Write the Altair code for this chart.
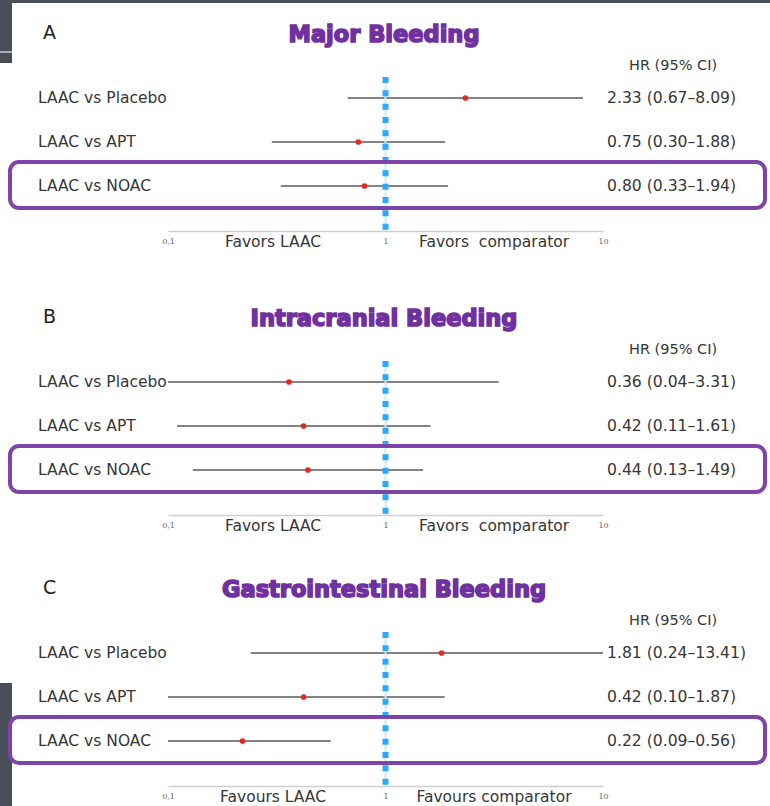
import altair as alt
import pandas as pd

# ---------------- data ----------------
comparisons = ["LAAC vs Placebo", "LAAC vs APT", "LAAC vs NOAC"]

major_hr = [2.33, 0.75, 0.80]
major_lo = [0.67, 0.30, 0.33]
major_hi = [8.09, 1.88, 1.94]

ich_hr = [0.36, 0.42, 0.44]
ich_lo = [0.04, 0.11, 0.13]
ich_hi = [3.31, 1.61, 1.49]

gi_hr = [1.81, 0.42, 0.22]
gi_lo = [0.24, 0.10, 0.09]
gi_hi = [13.41, 1.87, 0.56]

panel_letters = ["A", "B", "C"]
panel_titles = ["Major Bleeding", "Intracranial Bleeding", "Gastrointestinal Bleeding"]
favor_left = ["Favors LAAC", "Favors LAAC", "Favours LAAC"]
favor_right = ["Favors\u00a0\u00a0comparator", "Favors\u00a0\u00a0comparator", "Favours comparator"]
tick_values = [0.1, 1, 10]
header_text = "HR (95% CI)"

FONT = "DejaVu Sans"
TXT = "#363636"
PURPLE_T = "#7030A0"
PURPLE_B = "#7f44a8"
BLUE = "#2ea7ff"
DARK = "#4a4e59"


def one():
    return alt.Data(values=[{"k": 0}])


def panel(i, hr, lo, hi, height, dy, extra=None):
    labels = [f"{h:.2f} ({l:.2f}\u2013{u:.2f})" for h, l, u in zip(hr, lo, hi)]
    df = pd.DataFrame({"comparison": comparisons, "hr": hr, "lo": lo,
                       "hi": hi, "label": labels})
    base = alt.Chart(df)
    xscale = alt.Scale(type="log", domain=[0.1, 10], range=[168, 603], clamp=True, nice=False)
    yscale = alt.Scale(type="point", domain=comparisons, range=[98 + dy, 186 + dy], padding=0)
    Y = alt.Y("comparison:N", scale=yscale, axis=None)

    ci = base.mark_rule(color="#5a5a5a", strokeWidth=1.3).encode(
        x=alt.X("lo:Q", scale=xscale, title=None,
                axis=alt.Axis(values=tick_values, grid=False, ticks=False, tickSize=0,
                              domainColor="#cfcfcf", domainWidth=1.5,
                              labelExpr="datum.value < 0.5 ? '0,1' : format(datum.value, 'd')",
                              labelFontSize=8, labelColor="#666", labelFont="DejaVu Serif",
                              labelPadding=6, labelFlush=False)),
        x2="hi:Q",
        y=Y,
    )
    pts = base.mark_circle(size=32, color="#e8261c", opacity=1).encode(
        x=alt.X("hr:Q", scale=xscale, title=None), y=Y)
    row_lab = base.mark_text(align="left", baseline="middle", font=FONT,
                             fontSize=15.5, color=TXT).encode(
        x=alt.value(38), y=Y, text="comparison:N")
    hr_lab = base.mark_text(align="left", baseline="middle", font=FONT,
                            fontSize=15.6, color=TXT).encode(
        x=alt.value(607), y=Y, text="label:N")

    cyan = alt.Chart(one()).mark_rule(color="#c5eef7", strokeWidth=2).encode(
        x=alt.datum(1), y=alt.value(77 + dy), y2=alt.value(height))
    dash = alt.Chart(one()).mark_rule(color=BLUE, strokeWidth=6, strokeDash=[6, 7.33],
                                      strokeCap="butt").encode(
        x=alt.datum(1), y=alt.value(77 + dy), y2=alt.value(height))

    box = alt.Chart(one()).mark_rect(cornerRadius=9, stroke=PURPLE_B, strokeWidth=4,
                                     fillOpacity=0).encode(
        x=alt.value(10), x2=alt.value(765), y=alt.value(162 + dy), y2=alt.value(208 + dy))

    letter = alt.Chart(one()).mark_text(align="left", baseline="middle", font=FONT,
                                        fontSize=19, color="#222").encode(
        x=alt.value(43), y=alt.value(33 + dy), text=alt.value(panel_letters[i]))
    title = alt.Chart(one()).mark_text(align="center", baseline="middle", font=FONT,
                                       fontSize=22.5, fontWeight="bold", color=PURPLE_T,
                                       stroke=PURPLE_T, strokeWidth=1.6).encode(
        x=alt.value(384), y=alt.value(35 + dy), text=alt.value(panel_titles[i]))
    header = alt.Chart(one()).mark_text(align="left", baseline="middle", font=FONT,
                                        fontSize=14.5, color=TXT).encode(
        x=alt.value(629), y=alt.value(66 + dy), text=alt.value(header_text))
    favl = alt.Chart(one()).mark_text(align="center", baseline="middle", font=FONT,
                                      fontSize=15.5, color=TXT).encode(
        x=alt.value(273), y=alt.value(height + 11), text=alt.value(favor_left[i]))
    favr = alt.Chart(one()).mark_text(align="center", baseline="middle", font=FONT,
                                      fontSize=15.5, color=TXT).encode(
        x=alt.value(494), y=alt.value(height + 11), text=alt.value(favor_right[i]))

    layers = []
    if extra is not None:
        layers += extra
    layers += [ci, cyan, dash, pts, row_lab, hr_lab, box, letter, title, header, favl, favr]
    return alt.layer(*layers).properties(width=770, height=height)


# background scan artefacts (dark slide edges)
def strip(x1, x2, y1, y2, color=DARK):
    return alt.Chart(one()).mark_rect(color=color).encode(
        x=alt.value(x1), x2=alt.value(x2), y=alt.value(y1), y2=alt.value(y2))


extra_a = [strip(0, 770, 0, 3), strip(0, 12, 0, 63), strip(0, 12, 51, 53, "#a9abb0")]
extra_c = [strip(0, 12, 683 - 568, 806 - 568)]

pa = panel(0, major_hr, major_lo, major_hi, 231, 0, extra_a)
pb = panel(1, ich_hr, ich_lo, ich_hi, 231, 0)
pc = panel(2, gi_hr, gi_lo, gi_hi, 218, -13, extra_c)

chart = alt.vconcat(pa, pb, pc, spacing=53, bounds="flush").properties(
    padding=0, background="white"
).configure_view(stroke=None)

chart.save("out.html", embed_options={"renderer": "svg", "actions": False})
